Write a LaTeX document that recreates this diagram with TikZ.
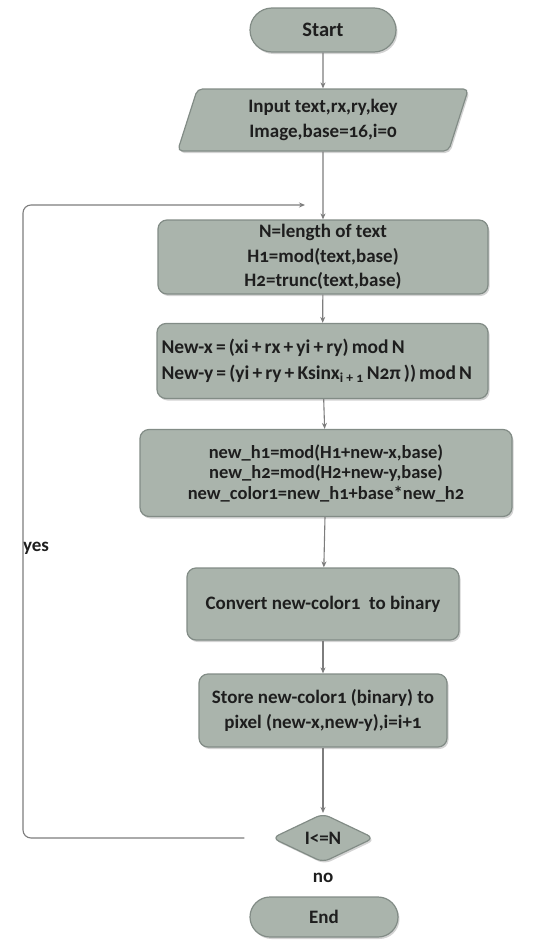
\documentclass[tikz,border=0pt]{standalone}
\usepackage{fontspec}
\setmainfont{Carlito}[Numbers=OldStyle]
\usetikzlibrary{shapes.geometric,shapes.misc,shadows,arrows.meta}
\definecolor{boxfill}{RGB}{170,180,172}
\definecolor{boxdraw}{RGB}{130,140,134}
\definecolor{linec}{RGB}{125,125,125}
\definecolor{txt}{RGB}{30,30,30}
\newcommand\narrowspaces{\spaceskip=0.16em plus 0.02em\relax}
\tikzset{
  base/.style={draw=boxdraw, line width=1.2pt, fill=boxfill, text=txt,
    font=\bfseries\fontsize{19}{24.5}\selectfont, align=center, inner sep=2pt,
    drop shadow={opacity=0.35, shadow xshift=1.5pt, shadow yshift=-2pt}},
  term/.style={base, rounded rectangle, minimum width=150pt, minimum height=44pt},
  procbox/.style={base, rectangle, rounded corners=9pt},
  iobox/.style={base, trapezium, trapezium left angle=75, trapezium right angle=105,
    trapezium stretches=true, rounded corners=5pt},
  decision/.style={base, diamond, rounded corners=7pt},
  flow/.style={draw=linec, line width=1.1pt, -{Stealth[length=6pt,width=5pt]}},
  lab/.style={text=txt, font=\bfseries\fontsize{19}{22}\selectfont},
}
\begin{document}
\begin{tikzpicture}[x=1pt,y=-1pt]
\useasboundingbox (0,0) rectangle (533,945);
\node[term, font=\bfseries\fontsize{20.5}{24}\selectfont] (start) at (323,30) {Start};
\node[iobox, minimum width=291pt, minimum height=62pt] (input) at (323,120) {Input text,rx,ry,key\\Image,base=16,i=0};
\node[procbox, minimum width=330pt, minimum height=74pt] (b1) at (323,257) {N=length of text\\H1=mod(text,base)\\H2=trunc(text,base)};
\node[procbox, minimum width=331pt, minimum height=75pt, align=left, text width=322pt,
  font=\bfseries\fontsize{19.5}{26}\selectfont] (b2) at (322.5,361)
  {\narrowspaces New-x = (xi + rx + yi + ry) mod N\\\narrowspaces New-y = (yi + ry + Ksinx\textsubscript{i + 1} N2π )) mod N};
\node[procbox, minimum width=372pt, minimum height=87pt, font=\bfseries\fontsize{18.5}{20.5}\selectfont] (b3) at (326,473) {new\_h1=mod(H1+new-x,base)\\new\_h2=mod(H2+new-y,base)\\new\_color1=new\_h1+base*new\_h2};
\node[procbox, minimum width=272pt, minimum height=72pt] (b4) at (323,604) {Convert new-color1\ \ to binary};
\node[procbox, minimum width=248pt, minimum height=73pt] (b5) at (323,710.5) {Store new-color1 (binary) to\\pixel (new-x,new-y),i=i+1};
\node[decision, minimum width=102pt, minimum height=48pt, inner sep=0pt] (dec) at (323,838) {I<=N};
\node[term, minimum width=152pt, minimum height=40pt] (end) at (324,917) {End};
\node[lab] (no) at (323,878) {no};
\node[lab] (yes) at (36,548) {yes};
\coordinate (join) at (323,205);
\draw[flow] (start) -- (input);
\draw[flow] (input) -- (b1);
\draw[flow] (b1) -- (b2);
\draw[flow] (b2) -- (b3);
\draw[flow] (b3) -- (b4);
\draw[flow] (b4) -- (b5);
\draw[flow] (b5) -- (dec);
\draw[draw=linec, line width=1.1pt, shorten <=27pt, rounded corners=8pt, -{Stealth[length=6pt,width=5pt]}, shorten >=18pt]
  (dec.west) -- (23,838) -- (23,205) -- (join);
\end{tikzpicture}
\end{document}
